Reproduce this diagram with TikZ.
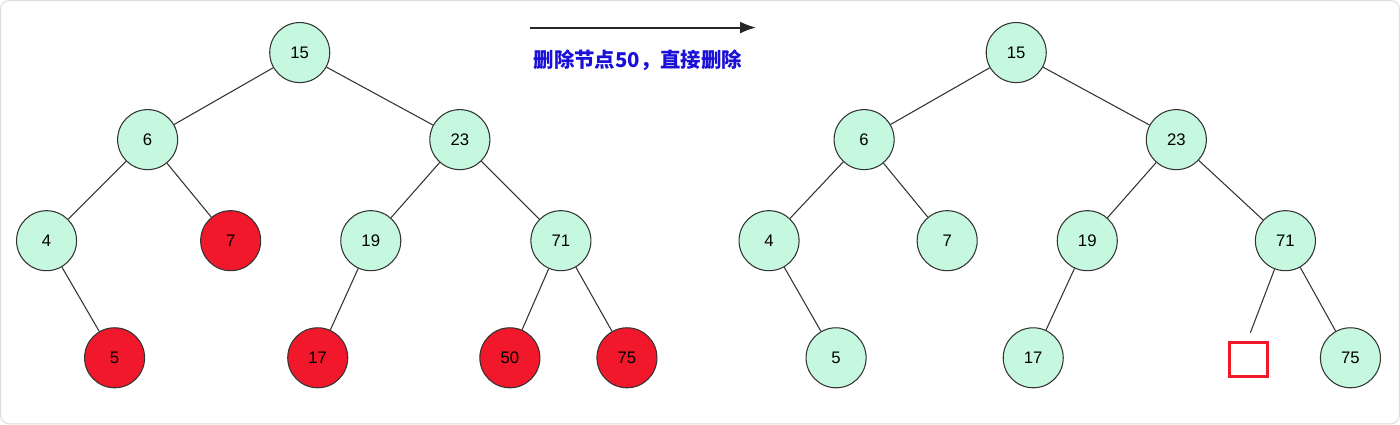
\documentclass[tikz,border=0pt]{standalone}
\usepackage{fontspec}
\setmainfont{Liberation Sans}
\newfontfamily\cjkfont{Noto Sans CJK SC}
\usetikzlibrary{arrows.meta, positioning}
\definecolor{MintFill}{HTML}{C6F8DF}
\definecolor{HotRed}{HTML}{F0182A}
\definecolor{EdgeGray}{HTML}{333333}
\definecolor{FrameGray}{HTML}{DDDDDD}
\definecolor{NoteBlue}{HTML}{1A10D8}
\tikzset{
  mintnode/.style={circle, draw=EdgeGray, line width=0.6pt, fill=MintFill, minimum size=1.2cm, inner sep=0pt, font=\fontsize{9.5}{11}\selectfont},
  rednode/.style={mintnode, fill=HotRed},
  holebox/.style={draw=HotRed, line width=1.9pt, minimum width=0.76cm, minimum height=0.68cm, inner sep=0pt},
  edge/.style={draw=EdgeGray, line width=0.6pt},
  arrow/.style={-{Latex[length=3.2mm, width=2.4mm]}, line width=1.1pt, draw=black!85}
}
\begin{document}
\begin{tikzpicture}[x=0.02cm, y=-0.02cm]
\draw[FrameGray, line width=0.6pt, rounded corners=5pt, fill=white] (1,1) rectangle (1399,424);
% left tree
\node[mintnode] (l15) at (300,53) {15};
\node[mintnode] (l6) at (148,140) {6};
\node[mintnode] (l23) at (460,140) {23};
\node[mintnode] (l4) at (47,241) {4};
\node[rednode] (l7) at (231,241) {7};
\node[mintnode] (l19) at (371,241) {19};
\node[mintnode] (l71) at (561,241) {71};
\node[rednode] (l5) at (115,358) {5};
\node[rednode] (l17) at (318,358) {17};
\node[rednode] (l50) at (510,358) {50};
\node[rednode] (l75) at (627,358) {75};
\draw[edge] (l15) -- (l6);
\draw[edge] (l15) -- (l23);
\draw[edge] (l6) -- (l4);
\draw[edge] (l6) -- (l7);
\draw[edge] (l23) -- (l19);
\draw[edge] (l23) -- (l71);
\draw[edge] (l4) -- (l5);
\draw[edge] (l19) -- (l17);
\draw[edge] (l71) -- (l50);
\draw[edge] (l71) -- (l75);
% arrow and note
\coordinate (arrfrom) at (530,28);
\coordinate (arrto) at (756,28);
\draw[arrow] (arrfrom) -- (arrto);
\node[text=NoteBlue, font=\cjkfont\bfseries\fontsize{11.6}{13}\selectfont] (note) at (638,61) {删除节点50，直接删除};
% right tree
\node[mintnode] (r15) at (1016,53) {15};
\node[mintnode] (r6) at (864,140) {6};
\node[mintnode] (r23) at (1176,140) {23};
\node[mintnode] (r4) at (769,241) {4};
\node[mintnode] (r7) at (947,241) {7};
\node[mintnode] (r19) at (1087,241) {19};
\node[mintnode] (r71) at (1285,241) {71};
\node[mintnode] (r5) at (836,358) {5};
\node[mintnode] (r17) at (1033,358) {17};
\node[holebox] (hole) at (1248,360) {};
\node[mintnode] (r75) at (1350,358) {75};
\coordinate (cut) at (1250,333);
\draw[edge] (r15) -- (r6);
\draw[edge] (r15) -- (r23);
\draw[edge] (r6) -- (r4);
\draw[edge] (r6) -- (r7);
\draw[edge] (r23) -- (r19);
\draw[edge] (r23) -- (r71);
\draw[edge] (r4) -- (r5);
\draw[edge] (r19) -- (r17);
\draw[edge] (r71) -- (cut);
\draw[edge] (r71) -- (r75);
\end{tikzpicture}
\end{document}
